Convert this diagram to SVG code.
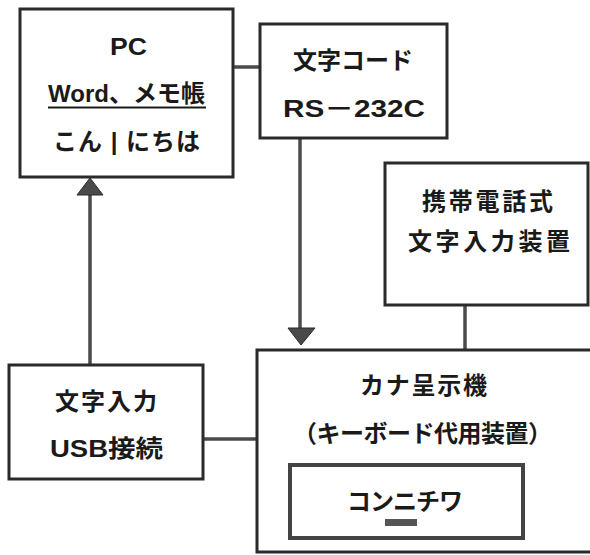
<svg xmlns="http://www.w3.org/2000/svg" width="590" height="555" viewBox="0 0 590 555">
<style>
.box{fill:#fff;stroke:#2a2a2a;stroke-width:3}
.inner{fill:#fff;stroke:#444;stroke-width:4}
.t{font-family:"Liberation Sans","Noto Sans CJK JP",sans-serif;font-size:24px;font-weight:bold;fill:#1a1a1a;text-anchor:middle}
.c{stroke:#4a4a4a;stroke-width:3.5;fill:none}
.ah{fill:#4a4a4a;stroke:#2a2a2a;stroke-width:1}
</style>
<rect width="590" height="555" fill="#fff"/>
<g id="connectors">
<line class="c" x1="233" y1="67" x2="260" y2="67"/>
<line class="c" x1="90" y1="194" x2="90" y2="365"/>
<polygon class="ah" points="90,178 103,195 77,195"/>
<line class="c" x1="300" y1="138" x2="300" y2="330"/>
<polygon class="ah" points="301,345 315,328 288,328"/>
<line class="c" x1="465" y1="305" x2="465" y2="350"/>
<line class="c" x1="203" y1="439" x2="257" y2="439"/>
</g>
<g id="pc">
<rect class="box" x="20" y="9" width="213" height="168"/>
<text class="t" x="128.5" y="55" textLength="37" lengthAdjust="spacingAndGlyphs">PC</text>
<text class="t" x="126.5" y="102" textLength="157" lengthAdjust="spacingAndGlyphs">Word、メモ帳</text>
<line x1="48" y1="107.5" x2="206" y2="107.5" stroke="#1a1a1a" stroke-width="2"/>
<text class="t" x="126.5" y="150" textLength="147" lengthAdjust="spacing">こん | にちは</text>
</g>
<g id="code">
<rect class="box" x="260" y="24" width="187" height="114"/>
<text class="t" x="353" y="69" textLength="120" lengthAdjust="spacing">文字コード</text>
<text class="t" x="354" y="117" textLength="142" lengthAdjust="spacingAndGlyphs">RS－232C</text>
</g>
<g id="mobile">
<rect class="box" x="385" y="163" width="203" height="142"/>
<text class="t" x="487.5" y="210" textLength="131" lengthAdjust="spacing">携帯電話式</text>
<text class="t" x="489" y="250" textLength="162" lengthAdjust="spacing">文字入力装置</text>
</g>
<g id="usb">
<rect class="box" x="9" y="365" width="194" height="114"/>
<text class="t" x="106" y="410" textLength="102" lengthAdjust="spacing">文字入力</text>
<text class="t" x="106.5" y="457" textLength="113" lengthAdjust="spacingAndGlyphs">USB接続</text>
</g>
<g id="kana">
<rect class="box" x="257" y="350" width="345" height="202"/>
<text class="t" x="423.5" y="394" textLength="127" lengthAdjust="spacing">カナ呈示機</text>
<text class="t" x="422.5" y="442" textLength="259" lengthAdjust="spacing">（キーボード代用装置）</text>
<g id="display">
<rect class="inner" x="290" y="465" width="233" height="73"/>
<text class="t" x="405" y="510" textLength="116" lengthAdjust="spacing">コンニチワ</text>
<rect x="385" y="519" width="32" height="7" fill="#555"/>
</g>
</g>
</svg>
